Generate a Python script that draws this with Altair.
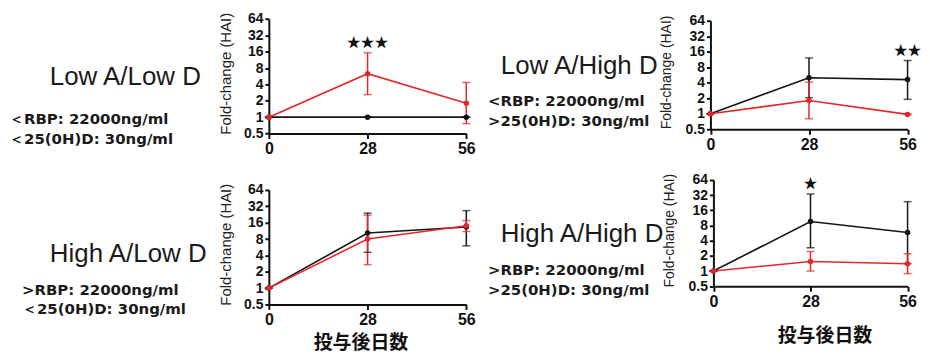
import altair as alt
import pandas as pd

days = [0, 28, 56]
y_ticks = [0.5, 1, 2, 4, 8, 16, 32, 64]
x_ticks = [0, 28, 56]

# Panel 1: Low A / Low D
p1_black_mean = [1.0, 1.0, 1.0]
p1_black_lo = [1.0, 1.0, 1.0]
p1_black_hi = [1.0, 1.0, 1.0]
p1_red_mean = [1.0, 6.3, 1.8]
p1_red_lo = [1.0, 2.6, 0.76]
p1_red_hi = [1.0, 15.3, 4.35]

# Panel 2: Low A / High D
p2_black_mean = [1.0, 5.0, 4.6]
p2_black_lo = [1.0, 2.05, 1.9]
p2_black_hi = [1.0, 12.1, 10.8]
p2_red_mean = [1.0, 1.8, 0.97]
p2_red_lo = [1.0, 0.8, 0.97]
p2_red_hi = [1.0, 4.1, 0.97]

# Panel 3: High A / Low D
p3_black_mean = [1.0, 10.3, 13.3]
p3_black_lo = [1.0, 4.55, 6.0]
p3_black_hi = [1.0, 24.0, 26.7]
p3_red_mean = [1.0, 8.0, 14.0]
p3_red_lo = [1.0, 2.7, 11.0]
p3_red_hi = [1.0, 22.0, 17.5]

# Panel 4: High A / High D
p4_black_mean = [1.0, 9.6, 5.8]
p4_black_lo = [1.0, 2.9, 1.4]
p4_black_hi = [1.0, 33.8, 23.8]
p4_red_mean = [1.0, 1.55, 1.4]
p4_red_lo = [1.0, 1.0, 0.89]
p4_red_hi = [1.0, 2.45, 2.2]

titles = ["Low A/Low D", "Low A/High D", "High A/Low D", "High A/High D"]
sub1 = ["＜RBP: 22000ng/ml", "<RBP: 22000ng/ml", ">RBP: 22000ng/ml", ">RBP: 22000ng/ml"]
sub2 = ["＜25(0H)D: 30ng/ml", ">25(0H)D: 30ng/ml", "＜25(0H)D: 30ng/ml", ">25(0H)D: 30ng/ml"]
stars = ["★★★", "★★", "", "★"]
star_day = [28, 56, 28, 28]
star_val = [23, 16.8, 23, 53]
y_title = "Fold-change (HAI)"
x_title = "投与後日数"

W, H = 457, 170
RED = "#e3282b"
BLACK = "#141414"

# layout geometry (cell-relative pixels)
geoms = [
    dict(x0=262, x1=460.3, yb=125.3, yt=10.3, tx=42, ty=69, sx=1, sy1=111, sy2=131, xt=None),
    dict(x0=248.5, x1=446.5, yb=121, yt=12, tx=38, ty=58, sx=25, sy1=93, sy2=113, xt=None),
    dict(x0=262, x1=460.3, yb=127, yt=12, tx=42, ty=76, sx=14, sy1=112.7, sy2=132, xt=(354, 38)),
    dict(x0=251.5, x1=446.5, yb=108.7, yt=2, tx=38, ty=56, sx=25, sy1=92.7, sy2=112, xt=(363, 50)),
]

series = [
    (p1_black_mean, p1_black_lo, p1_black_hi, p1_red_mean, p1_red_lo, p1_red_hi),
    (p2_black_mean, p2_black_lo, p2_black_hi, p2_red_mean, p2_red_lo, p2_red_hi),
    (p3_black_mean, p3_black_lo, p3_black_hi, p3_red_mean, p3_red_lo, p3_red_hi),
    (p4_black_mean, p4_black_lo, p4_black_hi, p4_red_mean, p4_red_lo, p4_red_hi),
]


def panel(i):
    g = geoms[i]
    bm, bl, bh, rm, rl, rh = series[i]
    rows = []
    for grp, m, lo, hi in (("black", bm, bl, bh), ("red", rm, rl, rh)):
        for d, a, b, c in zip(days, m, lo, hi):
            rows.append(dict(group=grp, day=d, mean=a, lo=b, hi=c))
    df = pd.DataFrame(rows)

    xscale = alt.Scale(domain=[0, 56], range=[g["x0"], g["x1"]], nice=False, zero=False)
    yscale = alt.Scale(type="log", base=2, domain=[0.5, 64], range=[g["yb"], g["yt"]], nice=False)
    xaxis_kw = dict(values=x_ticks, offset=g["yb"] - H, labelFlush=False, labelOverlap=False,
                    labelFontSize=16, labelFont="Liberation Sans", labelFontWeight="bold",
                    labelColor="#111", labelPadding=2, tickSize=5)
    if g["xt"] is not None:
        xaxis_kw.update(title=x_title, titleX=g["xt"][0], titleY=g["xt"][1],
                        titleFont="Noto Sans CJK JP", titleFontSize=19, titleFontWeight="bold",
                        titleBaseline="middle", titleAlign="center", titleColor="#111")
    else:
        xaxis_kw.update(title=None)
    xaxis = alt.Axis(**xaxis_kw)
    yaxis = alt.Axis(values=y_ticks, format="~g", offset=-g["x0"], labelFlush=False,
                     labelOverlap=False, labelFontSize=14, labelFont="Liberation Sans",
                     labelFontWeight="bold", labelColor="#111", labelPadding=2, tickSize=4,
                     title=y_title, titleX=-44, titleY=(g["yb"] + g["yt"]) / 2 - 3,
                     titleFont="Liberation Sans", titleFontSize=15 if i in (0, 2) else 14,
                     titleFontWeight="normal", titleBaseline="middle", titleColor="#222")

    X = alt.X("day:Q", scale=xscale, axis=xaxis)
    color = alt.Color("group:N", scale=alt.Scale(domain=["black", "red"], range=[BLACK, RED]), legend=None)
    base = alt.Chart(df)
    bars = base.mark_rule(strokeWidth=1.5).encode(
        x=X, y=alt.Y("lo:Q", scale=yscale, axis=yaxis), y2="hi:Q", color=color)
    cap_lo = base.mark_tick(orient="horizontal", size=8, thickness=1.5).encode(
        x=X, y=alt.Y("lo:Q", scale=yscale, axis=yaxis), color=color)
    cap_hi = base.mark_tick(orient="horizontal", size=8, thickness=1.5).encode(
        x=X, y=alt.Y("hi:Q", scale=yscale, axis=yaxis), color=color)
    line = base.mark_line(strokeWidth=1.6).encode(
        x=X, y=alt.Y("mean:Q", scale=yscale, axis=yaxis), color=color, detail="group:N")
    pts = base.mark_circle(size=30, opacity=1).encode(
        x=X, y=alt.Y("mean:Q", scale=yscale, axis=yaxis), color=color)

    layers = [bars, cap_lo, cap_hi, line, pts]
    if stars[i]:
        sdf = pd.DataFrame({"day": [star_day[i]], "v": [star_val[i]], "t": [stars[i]]})
        layers.append(alt.Chart(sdf).mark_text(font="Noto Sans CJK JP", fontSize=14, color="#111",
                                               baseline="middle", align="center").encode(
            x=X, y=alt.Y("v:Q", scale=yscale, axis=yaxis), text="t:N"))
    tdf = pd.DataFrame({"t": [titles[i]]})
    layers.append(alt.Chart(tdf).mark_text(font="Liberation Sans", fontSize=26, color="#1a1a1a",
                                           align="left", baseline="middle").encode(
        x=alt.value(g["tx"]), y=alt.value(g["ty"]), text="t:N"))
    s1 = pd.DataFrame({"t": [sub1[i]]})
    layers.append(alt.Chart(s1).mark_text(font="DejaVu Sans", fontSize=15, fontWeight="bold",
                                          color="#1a1a1a", align="left", baseline="middle").encode(
        x=alt.value(g["sx"]), y=alt.value(g["sy1"]), text="t:N"))
    s2 = pd.DataFrame({"t": [sub2[i]]})
    layers.append(alt.Chart(s2).mark_text(font="DejaVu Sans", fontSize=15, fontWeight="bold",
                                          color="#1a1a1a", align="left", baseline="middle").encode(
        x=alt.value(g["sx"]), y=alt.value(g["sy2"]), text="t:N"))
    return alt.layer(*layers).properties(width=W, height=H)


chart = alt.concat(panel(0), panel(1), panel(2), panel(3), columns=2, spacing=0, bounds="flush").properties(
    padding=0, background="white"
).configure_view(stroke=None).configure_axis(
    grid=False, domainColor="#111", domainWidth=2, tickColor="#111", tickWidth=2
)

chart.save("out.html", embed_options={"renderer": "svg", "actions": False})
